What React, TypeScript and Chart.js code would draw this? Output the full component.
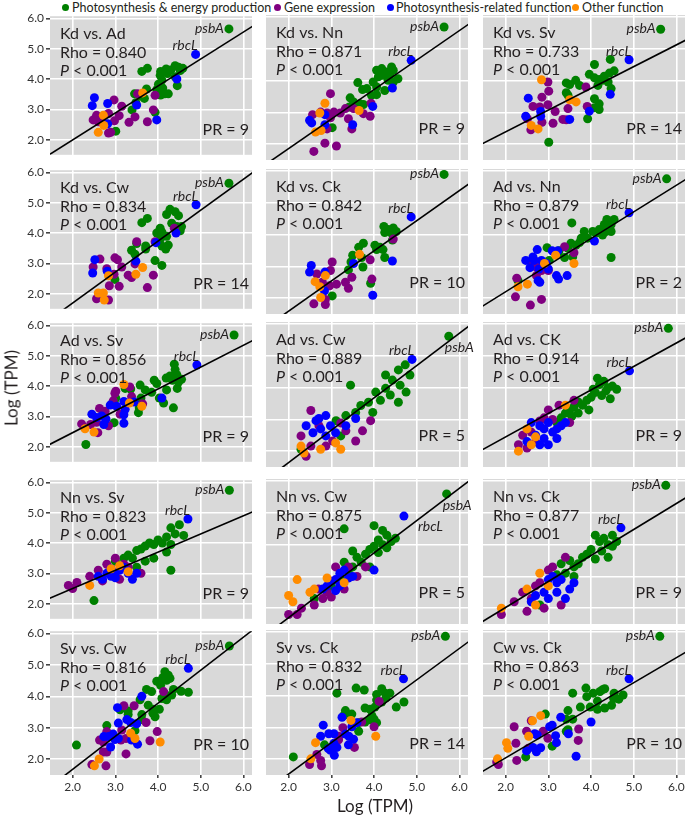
import React, { useEffect, useRef } from "react";
import { Chart, registerables } from "chart.js";
Chart.register(...registerables);

type Pt = [number, number];

const TITLES = ["Kd vs. Ad", "Kd vs. Nn", "Kd vs. Sv", "Kd vs. Cw", "Kd vs. Ck", "Ad vs. Nn", "Ad vs. Sv", "Ad vs. Cw", "Ad vs. CK", "Nn vs. Sv", "Nn vs. Cw", "Nn vs. Ck", "Sv vs. Cw", "Sv vs. Ck", "Cw vs. Ck"];
const RHO = ["0.840", "0.871", "0.733", "0.834", "0.842", "0.879", "0.856", "0.889", "0.914", "0.823", "0.875", "0.877", "0.816", "0.832", "0.863"];
const PR = [9, 9, 14, 14, 10, 2, 9, 5, 9, 9, 5, 9, 10, 14, 10];
const SLOPE = [0.89, 0.93, 0.685, 1.02, 0.95, 0.84, 0.72, 1.02, 0.74, 0.6, 1.02, 0.82, 1.05, 0.99, 0.79];
const INTERCEPT = [0.21, 0.0, 1.02, -0.35, -0.31, 0.52, 1.02, -0.4, 0.97, 1.3, -0.34, 0.38, -0.42, -0.45, 0.46];
const PSBA: Pt[] = [[5.66, 5.65], [5.64, 5.69], [5.63, 5.62], [5.66, 5.64], [5.64, 5.9], [5.77, 5.76], [5.78, 5.68], [5.75, 5.62], [5.81, 5.87], [5.67, 5.74], [5.7, 5.6], [5.75, 5.87], [5.67, 5.6], [5.67, 5.87], [5.61, 5.87]];
const RBCL: Pt[] = [[4.88, 4.81], [4.87, 4.64], [4.89, 4.66], [4.89, 4.93], [4.87, 4.56], [4.89, 4.69], [4.91, 4.69], [4.89, 4.89], [4.9, 4.53], [4.7, 4.79], [4.7, 4.9], [4.7, 4.53], [4.71, 4.89], [4.69, 4.53], [4.89, 4.53]];
// label placement: "L" = left of point, "B" = below-right of point
const PSBA_SIDE = ["L", "L", "L", "L", "L", "L", "L", "B", "L", "L", "B", "L", "L", "L", "L"];
const RBCL_SIDE = ["L", "L", "L", "L", "L", "L", "L", "L", "L", "L", "B", "L", "L", "L", "L"];

const GREEN: Pt[][] = [
  [[3.62, 4.25], [3.75, 4.35], [4.06, 4.25], [4.19, 4.33], [4.3, 4.3], [4.4, 4.44], [4.52, 4.28], [4.58, 4.35], [4.05, 4.12], [4.22, 4.18], [4.09, 3.96], [4.01, 3.83], [4.11, 3.7], [4.45, 3.78], [4.24, 3.51], [4.06, 3.47], [3.73, 3.67], [3.45, 3.51], [3.68, 3.36], [3.39, 2.98], [3.48, 3.22], [3.93, 2.9], [3.01, 2.28], [3.58, 3.44], [4.16, 3.51], [4.4, 4.07], [3.97, 3.65], [4.48, 4.39]],
  [[4.06, 4.33], [4.18, 4.38], [4.29, 4.27], [4.41, 4.43], [4.45, 4.33], [4.56, 4.06], [4.37, 4.17], [4.21, 4.17], [4.1, 4.12], [3.98, 3.96], [4.06, 3.8], [4.25, 3.69], [4.45, 3.96], [3.94, 3.54], [4.06, 3.56], [3.83, 3.75], [3.73, 3.72], [3.62, 3.94], [3.44, 3.46], [3.52, 3.33], [3.67, 3.27], [3.75, 3.25], [3.42, 3.17], [3.02, 2.52], [4.33, 4.01]],
  [[4.08, 4.51], [4.45, 4.67], [3.96, 4.2], [4.08, 4.09], [4.19, 4.04], [4.31, 4.14], [4.43, 4.24], [4.54, 4.31], [4.27, 4.01], [4.16, 3.85], [4.4, 3.96], [4.47, 3.75], [3.42, 3.93], [3.5, 3.88], [3.64, 4.01], [3.73, 3.85], [3.42, 3.62], [3.46, 3.54], [4.08, 3.43], [4.19, 3.27], [4.08, 3.15], [4.19, 3.09], [3.92, 2.8], [3.01, 2.06]],
  [[3.62, 4.34], [3.75, 4.48], [4.28, 4.78], [4.2, 4.61], [4.4, 4.7], [4.48, 4.57], [4.32, 4.32], [4.44, 4.21], [4.55, 4.21], [4.52, 4.07], [4.05, 4.16], [3.97, 4.0], [4.09, 4.03], [4.2, 3.89], [4.05, 3.79], [4.24, 3.6], [4.09, 3.57], [4.18, 3.47], [3.5, 3.65], [3.38, 3.43], [3.71, 3.57], [3.46, 3.3], [3.93, 3.09], [4.09, 2.93], [2.99, 2.47], [3.71, 3.47]],
  [[4.23, 4.26], [4.33, 4.16], [4.45, 4.21], [4.52, 4.1], [4.41, 4.05], [4.25, 4.07], [4.43, 3.83], [4.02, 3.67], [4.14, 3.6], [4.21, 3.53], [4.06, 3.53], [4.25, 3.28], [3.75, 3.73], [3.64, 3.6], [3.5, 3.35], [3.46, 3.14], [3.4, 2.89], [3.71, 3.28], [3.74, 2.98], [3.92, 2.47], [3.02, 2.07]],
  [[3.55, 4.37], [4.37, 4.48], [4.54, 4.48], [4.47, 4.32], [4.31, 4.32], [4.19, 4.16], [4.35, 4.1], [4.47, 4.1], [4.27, 3.99], [4.04, 4.1], [3.84, 4.1], [3.92, 3.89], [3.77, 3.89], [3.73, 3.75], [3.65, 3.67], [3.53, 3.73], [3.46, 3.57], [3.57, 3.3], [3.38, 3.28], [3.25, 3.49], [3.22, 3.41], [2.97, 3.59], [3.02, 3.19], [4.47, 3.28], [2.29, 2.55], [4.12, 4.05]],
  [[4.38, 4.72], [4.4, 4.54], [4.44, 4.37], [4.28, 4.33], [4.19, 4.26], [4.34, 4.19], [4.48, 4.13], [4.55, 4.22], [4.45, 3.92], [4.2, 3.87], [3.91, 4.19], [3.97, 4.08], [3.7, 3.87], [3.85, 3.79], [3.58, 4.03], [3.36, 3.9], [3.23, 3.92], [3.6, 3.6], [4.03, 3.6], [4.13, 3.44], [4.36, 3.28], [3.56, 3.28], [3.54, 3.12], [3.01, 3.6], [2.97, 2.79], [2.31, 2.07]],
  [[4.73, 4.72], [4.57, 4.56], [4.84, 4.4], [4.43, 4.24], [4.61, 4.08], [4.27, 3.98], [4.04, 3.86], [4.38, 3.77], [4.15, 3.6], [3.87, 3.54], [3.69, 3.44], [3.97, 3.22], [3.57, 3.22], [3.34, 3.12], [4.57, 3.54], [4.75, 3.86], [3.22, 2.48], [3.45, 4.08], [3.11, 2.96], [2.29, 2.06], [4.27, 4.4]],
  [[4.2, 4.1], [4.3, 4.2], [4.4, 4.0], [4.5, 4.05], [4.6, 3.95], [4.35, 3.9], [4.1, 3.85], [4.25, 3.75], [4.0, 3.7], [3.9, 3.6], [4.45, 3.65], [3.7, 3.55], [3.8, 3.45], [3.6, 3.4], [3.5, 3.3], [3.4, 3.2], [3.3, 3.05], [3.55, 3.1], [3.7, 3.2], [3.2, 2.9], [4.05, 3.95], [4.15, 4.3], [3.95, 3.3]],
  [[4.3, 4.5], [4.5, 4.6], [4.4, 4.3], [4.2, 4.2], [4.0, 4.1], [4.1, 4.0], [3.9, 3.95], [3.8, 4.0], [3.7, 3.9], [4.6, 4.25], [4.3, 3.95], [3.6, 3.8], [3.5, 3.75], [3.3, 3.6], [3.4, 3.5], [4.2, 3.7], [3.9, 3.5], [3.7, 3.4], [3.2, 3.5], [2.5, 2.1], [4.3, 3.1], [3.5, 3.2], [3.0, 3.4]],
  [[4.0, 4.6], [4.2, 4.45], [4.3, 4.3], [4.1, 4.15], [4.4, 4.1], [4.5, 4.2], [4.2, 4.0], [4.0, 3.95], [3.9, 3.85], [3.8, 3.7], [4.1, 3.75], [3.6, 3.6], [3.7, 3.45], [3.5, 3.3], [3.4, 3.2], [3.3, 3.45], [3.9, 3.3], [3.2, 3.0], [3.0, 2.7], [2.6, 2.3], [3.3, 4.5], [4.3, 3.9], [3.5, 3.8]],
  [[4.1, 4.3], [4.2, 4.1], [4.3, 4.2], [4.4, 4.0], [4.5, 3.95], [4.0, 3.85], [4.25, 3.8], [3.9, 3.7], [3.8, 3.6], [4.1, 3.55], [3.7, 3.4], [3.6, 3.3], [3.5, 3.5], [3.3, 3.4], [3.4, 3.1], [3.2, 3.05], [4.4, 3.6], [3.6, 3.0], [2.8, 2.1], [4.5, 4.3], [4.6, 4.1]],
  [[4.16, 4.78], [4.24, 4.67], [4.11, 4.59], [3.97, 4.48], [4.06, 4.35], [4.2, 4.51], [4.28, 4.57], [4.36, 4.22], [4.54, 4.16], [4.71, 4.13], [4.16, 4.08], [4.09, 3.93], [4.2, 3.89], [4.32, 4.04], [3.73, 4.22], [3.85, 4.15], [3.77, 3.72], [3.89, 3.59], [4.03, 3.59], [3.88, 3.46], [3.93, 3.35], [3.62, 3.42], [3.62, 3.26], [3.3, 3.53], [3.3, 3.42], [3.11, 3.57], [3.58, 3.89], [3.46, 2.91], [2.8, 3.07], [2.09, 2.45]],
  [[3.13, 4.08], [3.58, 4.24], [3.77, 4.18], [4.06, 4.04], [4.18, 4.22], [4.26, 4.08], [4.37, 4.08], [4.28, 3.93], [4.18, 3.8], [4.06, 3.86], [4.52, 3.64], [4.7, 3.8], [3.79, 3.61], [3.91, 3.57], [4.02, 3.64], [3.95, 3.37], [3.9, 3.24], [4.0, 3.26], [4.06, 3.15], [3.79, 3.17], [3.64, 3.15], [3.64, 2.88], [3.33, 3.53], [3.29, 3.37], [3.48, 3.42], [2.84, 2.45], [2.11, 2.07]],
  [[3.57, 4.08], [3.88, 4.24], [3.9, 3.97], [4.05, 4.08], [4.21, 4.13], [4.32, 4.22], [4.27, 4.19], [4.54, 4.08], [4.65, 3.89], [4.75, 4.02], [4.53, 3.91], [4.15, 3.83], [3.98, 3.64], [4.15, 3.57], [4.32, 3.61], [4.48, 3.7], [3.75, 3.64], [3.46, 3.53], [3.42, 3.26], [3.57, 3.26], [3.46, 2.93], [3.42, 2.88], [2.93, 3.42], [3.09, 2.41], [2.47, 2.07]],
];

const PURPLE: Pt[][] = [
  [[2.48, 2.65], [2.6, 2.59], [2.68, 2.75], [2.84, 2.86], [2.97, 3.31], [3.15, 3.1], [3.09, 2.79], [2.98, 2.62], [2.84, 2.22], [2.89, 2.24], [3.32, 2.57], [3.46, 2.75], [3.75, 2.59], [3.89, 2.98], [3.52, 3.51], [3.93, 3.46], [2.72, 2.52], [2.56, 2.8]],
  [[2.98, 3.59], [3.06, 3.01], [2.9, 2.98], [2.75, 3.01], [2.56, 2.93], [2.98, 2.83], [3.21, 2.98], [3.4, 2.8], [3.48, 2.48], [3.75, 2.96], [3.91, 2.88], [3.52, 3.12], [3.93, 3.29], [2.85, 2.03], [3.12, 1.94], [2.59, 1.77], [3.33, 3.12], [2.9, 2.48]],
  [[2.99, 3.96], [3.01, 3.67], [2.85, 3.48], [2.99, 3.24], [2.64, 3.19], [2.8, 3.17], [3.16, 3.03], [3.46, 3.12], [3.34, 2.78], [3.11, 2.66], [2.85, 2.69], [2.59, 2.45], [3.91, 3.19], [3.88, 3.8], [3.42, 2.77], [2.51, 2.8]],
  [[2.64, 3.14], [2.48, 2.88], [2.8, 2.82], [2.99, 3.18], [3.05, 3.12], [3.15, 2.88], [2.97, 2.64], [2.86, 2.26], [3.09, 2.24], [3.3, 2.61], [3.38, 2.53], [3.46, 2.98], [3.89, 2.61], [3.75, 2.2], [2.56, 1.83], [2.84, 1.79], [3.5, 3.71], [3.93, 3.71], [4.38, 4.16]],
  [[3.02, 3.14], [2.98, 2.87], [2.66, 2.76], [2.79, 2.5], [2.96, 2.39], [3.12, 2.44], [3.33, 2.5], [3.4, 2.31], [3.48, 2.66], [3.91, 3.21], [3.95, 2.6], [2.86, 1.96], [2.59, 1.82], [2.86, 1.8], [4.45, 3.86]],
  [[2.6, 3.14], [2.72, 2.98], [2.84, 2.87], [3.0, 2.87], [2.72, 2.71], [2.26, 2.63], [2.23, 2.04], [2.58, 1.78], [2.84, 1.96], [3.38, 3.62], [3.6, 3.43]],
  [[2.63, 3.26], [2.76, 3.17], [2.21, 2.75], [2.42, 2.73], [2.56, 2.8], [2.84, 2.69], [2.59, 2.46], [2.95, 3.51], [2.99, 3.76], [3.01, 3.83], [3.34, 3.97], [3.38, 3.65], [3.11, 3.07], [3.64, 3.41]],
  [[2.52, 3.28], [2.71, 2.8], [2.29, 2.48], [3.03, 2.32], [2.52, 2.16], [2.87, 2.16], [3.34, 2.64], [3.57, 2.32], [3.73, 2.64], [2.41, 1.84], [3.22, 2.89], [3.92, 2.96]],
  [[2.4, 2.5], [2.6, 2.6], [2.8, 2.95], [3.0, 3.3], [3.25, 3.45], [2.5, 2.1], [2.3, 2.2], [3.6, 3.6], [2.7, 2.3], [3.1, 3.0], [2.9, 3.05], [3.5, 2.9]],
  [[2.0, 2.5], [1.9, 2.6], [2.1, 2.7], [2.6, 3.1], [2.8, 3.3], [3.0, 3.5], [3.2, 3.3], [2.7, 2.75], [3.1, 2.8], [3.3, 3.2], [2.4, 2.9], [3.6, 3.0]],
  [[2.0, 1.8], [2.2, 1.8], [2.3, 2.0], [2.6, 2.1], [2.8, 2.3], [2.9, 2.5], [3.0, 2.35], [3.3, 2.6], [3.6, 3.0], [3.8, 3.3], [3.4, 3.3], [2.7, 2.6], [3.1, 3.3]],
  [[1.9, 1.8], [2.2, 2.2], [2.4, 2.5], [2.6, 2.3], [2.8, 2.8], [3.0, 3.2], [3.1, 3.3], [3.4, 3.6], [2.9, 2.0], [2.5, 1.9], [3.3, 2.1], [2.7, 2.7]],
  [[3.2, 3.7], [3.44, 3.7], [4.13, 4.15], [2.63, 2.61], [2.8, 2.88], [2.72, 2.55], [2.72, 2.23], [2.8, 2.23], [3.15, 2.93], [3.25, 2.66], [3.13, 2.61], [3.25, 2.17], [3.72, 3.17], [3.81, 2.59], [3.98, 2.88], [2.45, 1.83], [2.78, 1.79]],
  [[3.27, 2.99], [3.17, 2.72], [3.17, 2.61], [2.66, 2.15], [2.75, 1.96], [2.49, 1.83], [2.77, 1.79], [3.54, 2.37], [3.71, 3.17], [4.0, 3.02], [4.12, 3.82]],
  [[2.6, 3.21], [2.2, 3.02], [2.49, 2.88], [2.88, 2.88], [2.99, 2.66], [3.71, 2.95], [3.7, 2.59], [2.24, 2.5], [2.53, 2.34], [2.26, 1.96], [1.83, 1.83], [1.79, 1.91]],
];

const BLUE: Pt[][] = [
  [[2.51, 3.38], [2.46, 3.12], [2.82, 3.19], [2.82, 2.52], [3.5, 3.14], [3.97, 2.65], [4.44, 4.0]],
  [[4.43, 3.77], [3.97, 3.19], [2.49, 2.75], [2.54, 2.67], [2.85, 2.93], [2.85, 2.61], [3.5, 2.61]],
  [[4.45, 3.57], [2.53, 3.45], [2.47, 2.88], [2.82, 3.03], [2.82, 2.88], [3.5, 2.78], [3.96, 3.04]],
  [[4.42, 4.0], [3.95, 3.68], [3.48, 3.07], [2.52, 3.12], [2.47, 2.68], [2.81, 2.74]],
  [[4.43, 3.17], [3.97, 2.09], [2.53, 3.03], [2.49, 2.82], [2.85, 2.82], [2.84, 2.23], [3.52, 3.09]],
  [[4.08, 3.8], [2.74, 3.53], [2.47, 3.19], [2.67, 3.19], [2.84, 3.19], [3.09, 3.49], [3.22, 3.49], [2.57, 2.96], [2.78, 2.92], [3.0, 2.92], [2.76, 2.55], [2.8, 2.5], [3.19, 2.71], [3.24, 2.6], [3.44, 2.71], [2.95, 3.09], [2.64, 3.3]],
  [[4.09, 3.6], [3.03, 3.33], [3.2, 3.49], [2.88, 3.37], [2.45, 3.07], [2.56, 2.96], [2.68, 3.01], [2.78, 2.91], [2.73, 2.73], [3.2, 3.05], [3.2, 2.77], [3.23, 3.23], [3.44, 3.47]],
  [[2.87, 3.12], [2.64, 2.96], [2.41, 2.8], [2.75, 2.7], [2.98, 2.8], [3.1, 2.58], [2.57, 2.58], [3.34, 2.8], [2.71, 3.03], [3.57, 3.03], [2.87, 2.48]],
  [[2.6, 2.9], [2.8, 2.8], [2.9, 2.7], [3.0, 2.9], [3.1, 2.6], [3.2, 2.7], [2.7, 2.5], [2.9, 2.4], [3.3, 2.8], [3.4, 2.9], [2.5, 2.3], [3.0, 2.2], [3.2, 2.4], [2.8, 2.2]],
  [[2.8, 3.0], [2.9, 2.9], [3.0, 3.0], [3.1, 3.1], [3.2, 3.2], [2.7, 2.8], [2.6, 2.9], [3.3, 3.0], [3.5, 3.0], [3.0, 2.85], [3.4, 2.8], [2.9, 3.15]],
  [[3.2, 3.1], [3.1, 2.9], [3.0, 2.85], [2.9, 2.7], [3.3, 3.2], [3.4, 2.95], [2.8, 2.6], [3.1, 2.55], [3.5, 3.0], [4.0, 3.2], [3.2, 2.7]],
  [[3.0, 2.9], [3.1, 3.0], [3.2, 2.8], [3.3, 2.9], [3.5, 2.6], [2.9, 2.5], [3.0, 2.3], [3.4, 2.3], [3.6, 2.8], [2.7, 2.4], [2.6, 2.2], [3.2, 2.5]],
  [[3.62, 4.0], [3.05, 3.64], [3.07, 3.15], [2.73, 2.72], [2.84, 2.72], [2.95, 2.8], [3.07, 2.66], [2.99, 2.63], [3.27, 3.26], [3.36, 3.17], [3.5, 3.13], [3.38, 2.61], [3.52, 2.48], [2.89, 2.39]],
  [[2.81, 3.07], [2.94, 2.8], [3.06, 2.8], [2.93, 2.33], [2.98, 2.28], [3.07, 2.12], [3.13, 2.37], [3.25, 3.32], [3.33, 2.79], [3.41, 2.72], [3.52, 2.63], [3.48, 3.02], [3.6, 3.15], [3.4, 2.45], [3.06, 2.5], [2.75, 2.72]],
  [[4.0, 3.17], [3.65, 2.09], [3.47, 2.8], [3.29, 3.32], [3.09, 3.07], [3.17, 2.74], [3.19, 2.52], [2.68, 2.8], [2.74, 2.76], [2.49, 2.26], [2.64, 2.37], [2.72, 2.23], [2.82, 2.36], [3.03, 3.02]],
];

const ORANGE: Pt[][] = [
  [[2.72, 2.8], [2.73, 2.47], [2.6, 2.24], [3.64, 3.54]],
  [[2.85, 3.29], [2.73, 2.98], [2.63, 2.38], [2.76, 2.43], [3.65, 3.06]],
  [[2.84, 4.03], [2.6, 2.59], [2.76, 2.48], [3.5, 3.4], [3.65, 3.33]],
  [[2.84, 2.59], [2.6, 2.02], [2.72, 2.02], [2.74, 1.79], [3.48, 2.64], [3.64, 2.86]],
  [[2.86, 2.71], [2.62, 2.52], [2.73, 2.36], [2.75, 2.02], [3.66, 3.38]],
  [[3.6, 3.09], [2.29, 2.36], [2.51, 2.44], [3.17, 3.35], [2.91, 3.09]],
  [[3.2, 4.05], [2.29, 2.59], [2.5, 2.48], [3.62, 3.33], [3.33, 3.44]],
  [[2.29, 2.16], [2.36, 1.94], [3.1, 2.26], [3.22, 2.06], [2.75, 2.06]],
  [[2.5, 2.7], [2.7, 2.45], [3.4, 3.45], [2.3, 2.0], [2.6, 2.2]],
  [[3.3, 3.05], [2.9, 3.15], [3.1, 3.25], [2.4, 2.6]],
  [[2.0, 2.4], [2.1, 2.2], [2.2, 2.9], [2.5, 2.5], [2.9, 2.95], [3.3, 2.8], [2.6, 2.6]],
  [[2.5, 2.6], [2.7, 2.1], [3.0, 2.7], [2.8, 3.1], [1.9, 2.0]],
  [[3.36, 2.83], [3.46, 2.66], [4.05, 2.55], [2.62, 2.01], [2.51, 1.79]],
  [[3.46, 3.22], [2.63, 2.52], [2.52, 2.01], [4.04, 2.72]],
  [[2.82, 3.37], [2.63, 3.21], [2.54, 2.72], [2.02, 2.52], [2.05, 2.34], [1.81, 2.01]],
];

const TICKS = [2, 3, 4, 5, 6];
const X_MIN = 1.47, X_MAX = 6.2, Y_MIN = 1.5, Y_MAX = 6.07;
const COL_LEFT = [50, 266, 483];
const ROW_TOP = [15, 169, 322, 479, 630];
const PLOT_W = 202, PLOT_H = 145;
const COLORS = { green: "#008000", purple: "#800080", blue: "#0000ff", orange: "#ff8c00" };
const TEXT = "#231f20";
const FONT = "Lato";

function Panel({ idx }: { idx: number }) {
  const ref = useRef<HTMLCanvasElement>(null);
  const col = idx % 3;
  const row = Math.floor(idx / 3);
  const padL = col === 0 ? 50 : 4;
  const padR = col === 2 ? 4 : 10;
  const padT = 8;
  const padB = row === 4 ? 26 : 4;
  const w = PLOT_W + padL + padR;
  const h = PLOT_H + padT + padB;

  useEffect(() => {
    const toXY = (a: Pt[]) => a.map(([x, y]) => ({ x, y }));
    const lx = [1.2, 6.5];
    const lineData = lx.map((x) => ({ x, y: INTERCEPT[idx] + SLOPE[idx] * x }));
    const annot = {
      id: "annot",
      beforeDraw(chart: any) {
        const { ctx, chartArea: ca } = chart;
        ctx.save();
        ctx.fillStyle = "#d9d9d9";
        ctx.fillRect(ca.left, ca.top, ca.right - ca.left, ca.bottom - ca.top);
        ctx.restore();
      },
      afterDraw(chart: any) {
        const { ctx, chartArea: ca, scales } = chart;
        ctx.save();
        ctx.fillStyle = TEXT;
        ctx.textBaseline = "alphabetic";
        ctx.textAlign = "left";
        ctx.font = `16px ${FONT}`;
        const lx0 = ca.left + 10;
        ctx.fillText(TITLES[idx], lx0, ca.top + 23);
        ctx.fillText("Rho = " + RHO[idx], lx0, ca.top + 41.5);
        ctx.font = `italic 16px ${FONT}`;
        ctx.fillText("P", lx0, ca.top + 59.5);
        const pw = ctx.measureText("P").width;
        ctx.font = `16px ${FONT}`;
        ctx.fillText(" < 0.001", lx0 + pw, ca.top + 59.5);
        ctx.textAlign = "right";
        ctx.fillText("PR = " + PR[idx], ca.right - 3, ca.top + 119);
        ctx.font = `italic 14px ${FONT}`;
        const px = scales.x.getPixelForValue(PSBA[idx][0]);
        const py = scales.y.getPixelForValue(PSBA[idx][1]);
        if (PSBA_SIDE[idx] === "L") {
          ctx.textAlign = "right";
          ctx.fillText("psbA", px - 5, py + 4);
        } else {
          ctx.textAlign = "left";
          ctx.fillText("psbA", px - 4, py + 16);
        }
        const rx = scales.x.getPixelForValue(RBCL[idx][0]);
        const ry = scales.y.getPixelForValue(RBCL[idx][1]);
        if (RBCL_SIDE[idx] === "L") {
          ctx.textAlign = "right";
          ctx.fillText("rbcL", rx + 2, ry - 4);
        } else {
          ctx.textAlign = "left";
          ctx.fillText("rbcL", rx + 14, ry + 15);
        }
        ctx.restore();
      },
    };
    const pointDs = (pts: Pt[], color: string) => ({
      type: "scatter" as const,
      data: toXY(pts),
      backgroundColor: color,
      borderWidth: 0,
      pointRadius: 4.5,
      pointHoverRadius: 4.5,
    });
    const chart = new Chart(ref.current!, {
      type: "scatter",
      data: {
        datasets: [
          {
            type: "line",
            data: lineData,
            borderColor: "#000",
            borderWidth: 1.6,
            pointRadius: 0,
            fill: false,
          } as any,
          pointDs(ORANGE[idx], COLORS.orange),
          pointDs([...BLUE[idx], RBCL[idx]], COLORS.blue),
          pointDs(PURPLE[idx], COLORS.purple),
          pointDs([...GREEN[idx], PSBA[idx]], COLORS.green),
        ],
      },
      options: {
        animation: false,
        responsive: false,
        events: [],
        layout: { padding: { left: col === 0 ? 0 : padL, right: padR, top: padT, bottom: row === 4 ? 0 : padB }, autoPadding: false } as any,
        plugins: { legend: { display: false }, tooltip: { enabled: false } },
        scales: {
          x: {
            type: "linear",
            min: X_MIN,
            max: X_MAX,
            afterBuildTicks: (a: any) => {
              a.ticks = TICKS.map((v) => ({ value: v }));
            },
            afterFit: (a: any) => {
              a.height = row === 4 ? padB : 0;
            },
            grid: { color: "#ffffff", lineWidth: 1.6, drawTicks: row === 4, tickLength: 3, tickColor: "#444" },
            border: { display: false },
            ticks: {
              display: row === 4,
              callback: (v: any) => Number(v).toFixed(1),
              font: { family: FONT, size: 12 },
              color: "#333",
              padding: 2,
              maxRotation: 0,
              autoSkip: false,
            },
          },
          y: {
            type: "linear",
            min: Y_MIN,
            max: Y_MAX,
            afterBuildTicks: (a: any) => {
              a.ticks = TICKS.map((v) => ({ value: v }));
            },
            afterFit: (a: any) => {
              a.width = col === 0 ? padL : 0;
            },
            grid: { color: "#ffffff", lineWidth: 1.6, drawTicks: col === 0, tickLength: 4, tickColor: "#444" },
            border: { display: false },
            ticks: {
              display: col === 0,
              callback: (v: any) => Number(v).toFixed(1),
              font: { family: FONT, size: 12 },
              color: "#333",
              padding: 2,
              autoSkip: false,
            },
          },
        },
      },
      plugins: [annot],
    } as any);
    return () => chart.destroy();
  }, [idx]);

  return (
    <canvas
      ref={ref}
      width={w}
      height={h}
      style={{ position: "absolute", left: COL_LEFT[col] - padL, top: ROW_TOP[row] - padT, width: w, height: h }}
    />
  );
}

const LEGEND = [
  { label: "Photosynthesis & energy production", color: COLORS.green, dot: 65.5, text: 72 },
  { label: "Gene expression", color: COLORS.purple, dot: 277, text: 284 },
  { label: "Photosynthesis-related function", color: COLORS.blue, dot: 390, text: 396 },
  { label: "Other function", color: COLORS.orange, dot: 575.5, text: 582 },
];

export default function App() {
  return (
    <div style={{ position: "absolute", left: 0, top: 0, width: 685, height: 816, background: "#fff", fontFamily: FONT, color: TEXT, overflow: "hidden" }}>
      {LEGEND.map((l) => (
        <React.Fragment key={l.label}>
          <div style={{ position: "absolute", left: l.dot - 3.5, top: 4, width: 7, height: 7, borderRadius: "50%", background: l.color }} />
          <div style={{ position: "absolute", left: l.text, top: 0, fontSize: 12.5, lineHeight: "15px", whiteSpace: "nowrap" }}>{l.label}</div>
        </React.Fragment>
      ))}
      {TITLES.map((_, i) => (
        <Panel key={i} idx={i} />
      ))}
      <div style={{ position: "absolute", left: 375, top: 797, transform: "translateX(-50%)", fontSize: 17, lineHeight: "17px", whiteSpace: "nowrap" }}>Log (TPM)</div>
      <div style={{ position: "absolute", left: 11, top: 388, transform: "translate(-50%, -50%) rotate(-90deg)", fontSize: 17, lineHeight: "17px", whiteSpace: "nowrap" }}>Log (TPM)</div>
    </div>
  );
}
